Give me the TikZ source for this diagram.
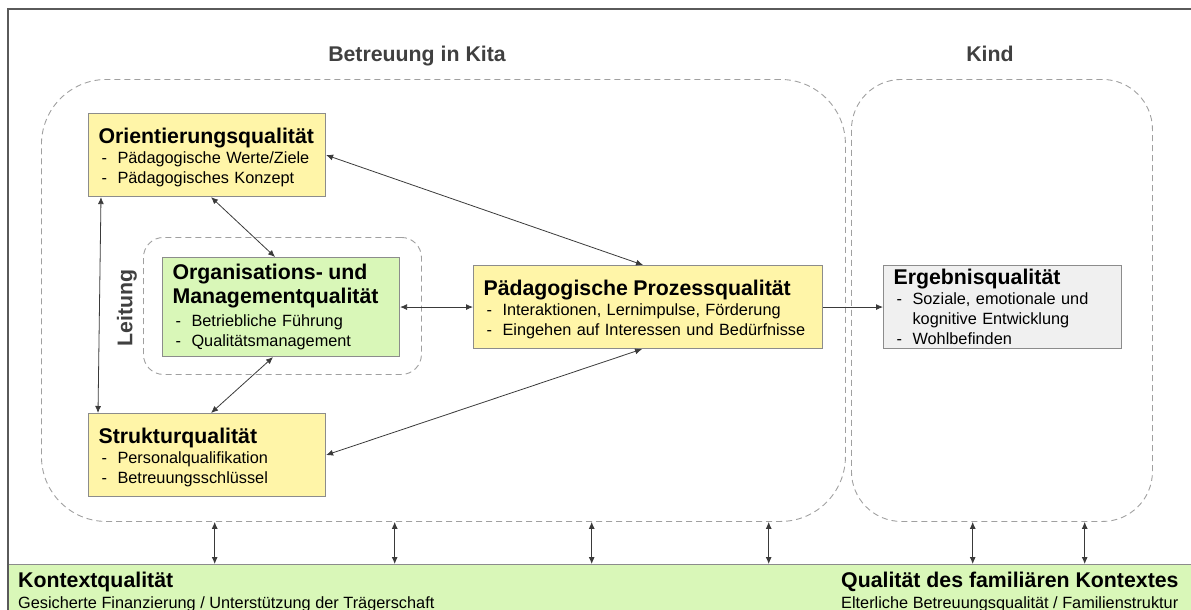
\documentclass[tikz,border=0pt]{standalone}
\usepackage{fontspec}
\setmainfont{Liberation Sans}
\usepackage{tikz}
\usetikzlibrary{arrows.meta,positioning}
\definecolor{qyellow}{HTML}{FFF5A8}
\definecolor{qgreen}{HTML}{D9F7B8}
\definecolor{qgray}{HTML}{F0F0F0}
\definecolor{boxgray}{HTML}{8C8C8C}
\definecolor{dashgray}{HTML}{A0A0A0}
\definecolor{titlegray}{HTML}{404040}
\definecolor{linkgray}{HTML}{3A3A3A}
\definecolor{framegray}{HTML}{5A5A5A}
\newcommand{\qhead}[1]{{\fontsize{21.3}{24}\selectfont\bfseries #1}}
\newcommand{\qtop}{\rule{0pt}{19.5pt}}
\newcommand{\qitem}{\hspace*{3pt}\makebox[16pt][l]{-}}

\begin{document}
\begin{tikzpicture}[x=1pt,y=-1pt,>={Latex[length=7pt,width=6pt]},
		font=\fontsize{16.3}{20}\selectfont,
		qbox/.style={draw=boxgray,line width=1.1pt,anchor=north west,align=left,
			inner xsep=10pt,inner ysep=0pt},
		group/.style={draw=dashgray,dash pattern=on 6pt off 4pt,line width=0.9pt,
			anchor=north west,inner sep=0pt},
		title/.style={font=\fontsize{21.3}{24}\selectfont\bfseries,text=titlegray},
		link/.style={<->,draw=linkgray,line width=0.8pt},
	]
		\useasboundingbox (0,0) rectangle (1191,610);
		\clip (0,0) rectangle (1191,610);

		% gruppen
		\node[group,rounded corners=65pt,minimum width=804,minimum height=442] (kita) at (41,79) {};
		\node[group,rounded corners=50pt,minimum width=301,minimum height=442] (kind) at (851,79) {};
		\node[group,rounded corners=20pt,minimum width=278,minimum height=137] (leitung) at (143,237) {};

		\node[title,anchor=base] (kitatitle) at (417,62) {Betreuung in Kita};
		\node[title,anchor=base] (kindtitle) at (990,62) {Kind};
		\node[title,rotate=90] (leitungtitle) at (127,308) {Leitung};

		% qualitaeten
		\node[qbox,fill=qyellow,text width=217,minimum height=83] (orient) at (88,113) {
			\qtop\qhead{Orientierungsqualität}\\
			\qitem Pädagogische Werte/Ziele\\
			\qitem Pädagogisches Konzept
		};
		\node[qbox,fill=qgreen,text width=217,minimum height=99] (org) at (162,257) {
			\qhead{Organisations- und}\\[4pt]
			\qhead{Managementqualität}\\[3pt]
			\qitem Betriebliche Führung\\
			\qitem Qualitätsmanagement
		};
		\node[qbox,fill=qyellow,text width=217,minimum height=83] (struktur) at (88,413) {
			\qtop\qhead{Strukturqualität}\\
			\qitem Personalqualifikation\\
			\qitem Betreuungsschlüssel
		};
		\node[qbox,fill=qyellow,text width=329,minimum height=83] (prozess) at (473,265) {
			\qtop\qhead{Pädagogische Prozessqualität}\\
			\qitem Interaktionen, Lernimpulse, Förderung\\
			\qitem Eingehen auf Interessen und Bedürfnisse
		};
		\node[qbox,fill=qgray,text width=218,minimum height=83] (ergebnis) at (883,265) {
			\qhead{Ergebnisqualität}\\
			\qitem Soziale, emotionale und\\
			\hspace*{19pt}kognitive Entwicklung\\
			\qitem Wohlbefinden
		};

		% kontexte
		\node[draw=boxgray,line width=1.1pt,fill=qgreen,anchor=north west,inner sep=0pt,
			minimum width=1220,minimum height=80] (kontext) at (7.7,564) {};
		\node[anchor=north west,align=left,inner sep=0pt] (kontexttxt) at (18,571.5) {
			\qhead{Kontextqualität}\\[1pt]
			Gesicherte Finanzierung / Unterstützung der Trägerschaft
		};
		\node[anchor=north west,align=left,inner sep=0pt] (familietxt) at (841,571.5) {
			\qhead{Qualität des familiären Kontextes}\\[1pt]
			Elterliche Betreuungsqualität / Familienstruktur
		};

		\draw[framegray,line width=1.6pt] (7.7,9) rectangle (1220,640);

		% pfeile
		\draw[link] (orient.east) -- ([xshift=-5]prozess.north);
		\draw[link] ([xshift=4]orient.south) -- ([xshift=-6]org.north);
		\draw[link] ([xshift=13]orient.south west) -- ([xshift=10]struktur.north west);
		\draw[link] (org.east) -- (prozess.west);
		\draw[link] ([xshift=-8]org.south) -- ([xshift=4]struktur.north);
		\draw[link] ([xshift=-6]prozess.south) -- (struktur.east);
		\draw[link,->] (prozess.east) -- (ergebnis.west);
		\foreach \x in {207,387,584,761} {
			\coordinate (k) at ([xshift=\x]kontext.north west);
			\draw[link] (k |- kita.south) -- (k);
		}
		\foreach \x in {965,1077} {
			\coordinate (k) at ([xshift=\x]kontext.north west);
			\draw[link] (k |- kind.south) -- (k);
		}
	\end{tikzpicture}
\end{document}
